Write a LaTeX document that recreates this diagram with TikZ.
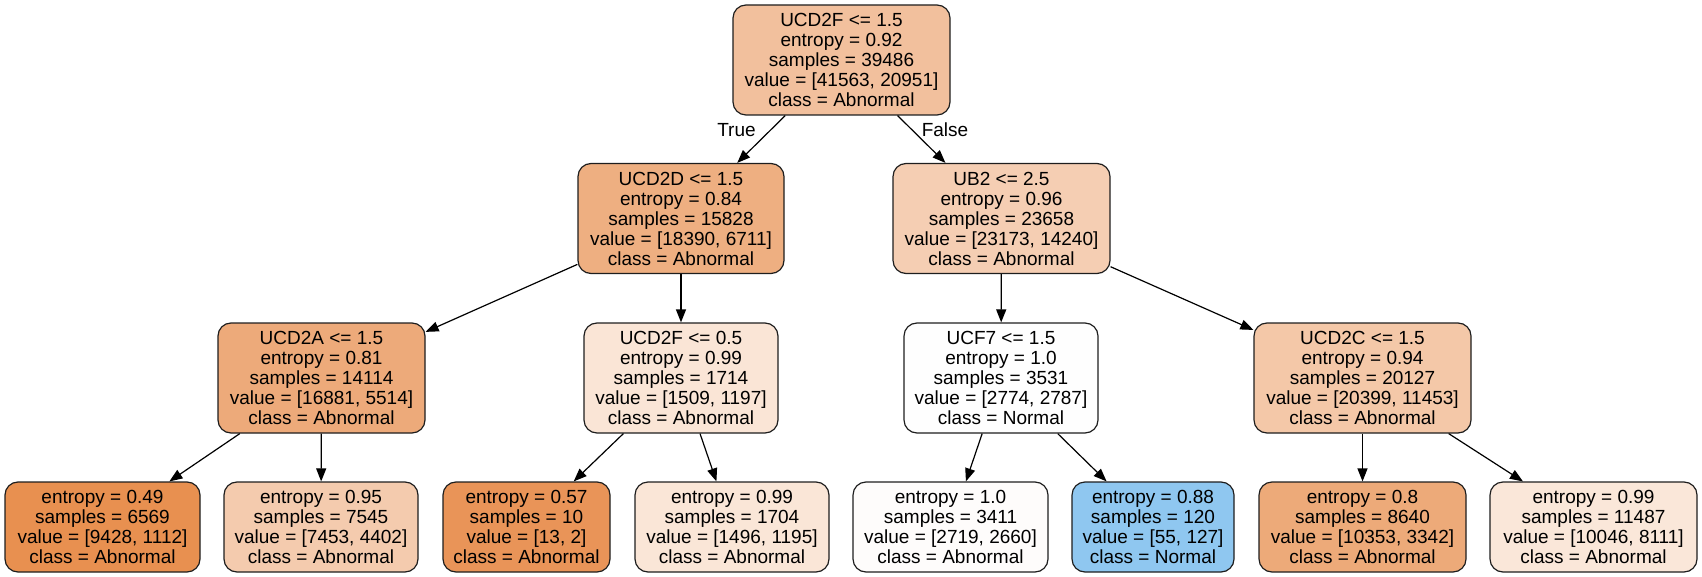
\documentclass[tikz,border=0pt]{standalone}
\usepackage{fontspec}
\setmainfont{Liberation Sans}
\usetikzlibrary{arrows.meta}

% node fills: orange = Abnormal, blue = Normal, lighter = less pure
\definecolor{c0}{RGB}{242,192,157}
\definecolor{c1}{RGB}{238,175,129}
\definecolor{c2}{RGB}{245,206,179}
\definecolor{c3}{RGB}{237,170,122}
\definecolor{c4}{RGB}{250,229,214}
\definecolor{c5}{RGB}{254,254,254}
\definecolor{c6}{RGB}{244,200,168}
\definecolor{l1}{RGB}{232,144,80}
\definecolor{l2}{RGB}{244,203,174}
\definecolor{l3}{RGB}{233,148,88}
\definecolor{l4}{RGB}{250,230,215}
\definecolor{l5}{RGB}{254,252,251}
\definecolor{l6}{RGB}{143,199,240}
\definecolor{l7}{RGB}{237,170,121}
\definecolor{l8}{RGB}{250,231,217}
\definecolor{border}{RGB}{30,30,30}

\begin{document}
\begin{tikzpicture}[x=1pt,y=-1pt,
  tnode/.style={draw=border, line width=1.2pt, rounded corners=13pt,
    align=center, font=\fontsize{19}{20}\selectfont, inner sep=0pt,
    minimum height=110pt},
  leaf/.style={tnode, minimum height=90pt},
  edge/.style={line width=1.2pt, -{Triangle[length=13pt,width=10pt]}},
  elabel/.style={font=\fontsize{19}{20}\selectfont}]
\useasboundingbox (0,0) rectangle (1702,577);

% root
\node[tnode, fill=c0, minimum width=217pt] (n0) at (841.5,60)
  {UCD2F <= 1.5\\entropy = 0.92\\samples = 39486\\value = [41563, 20951]\\class = Abnormal};

% depth 1
\node[tnode, fill=c1, minimum width=206pt] (n1) at (681,218.5)
  {UCD2D <= 1.5\\entropy = 0.84\\samples = 15828\\value = [18390, 6711]\\class = Abnormal};
\node[tnode, fill=c2, minimum width=217pt] (n2) at (1001.5,218.5)
  {UB2 <= 2.5\\entropy = 0.96\\samples = 23658\\value = [23173, 14240]\\class = Abnormal};

% depth 2
\node[tnode, fill=c3, minimum width=207pt] (n3) at (321.5,378)
  {UCD2A <= 1.5\\entropy = 0.81\\samples = 14114\\value = [16881, 5514]\\class = Abnormal};
\node[tnode, fill=c4, minimum width=194pt] (n4) at (681,378)
  {UCD2F <= 0.5\\entropy = 0.99\\samples = 1714\\value = [1509, 1197]\\class = Abnormal};
\node[tnode, fill=c5, minimum width=194pt] (n5) at (1001,378)
  {UCF7 <= 1.5\\entropy = 1.0\\samples = 3531\\value = [2774, 2787]\\class = Normal};
\node[tnode, fill=c6, minimum width=217pt] (n6) at (1362.5,378)
  {UCD2C <= 1.5\\entropy = 0.94\\samples = 20127\\value = [20399, 11453]\\class = Abnormal};

% leaves
\node[leaf, fill=l1, minimum width=195pt] (m1) at (102.5,527)
  {entropy = 0.49\\samples = 6569\\value = [9428, 1112]\\class = Abnormal};
\node[leaf, fill=l2, minimum width=194pt] (m2) at (321,527)
  {entropy = 0.95\\samples = 7545\\value = [7453, 4402]\\class = Abnormal};
\node[leaf, fill=l3, minimum width=167pt] (m3) at (526.5,527)
  {entropy = 0.57\\samples = 10\\value = [13, 2]\\class = Abnormal};
\node[leaf, fill=l4, minimum width=194pt] (m4) at (732,527)
  {entropy = 0.99\\samples = 1704\\value = [1496, 1195]\\class = Abnormal};
\node[leaf, fill=l5, minimum width=195pt] (m5) at (950.5,527)
  {entropy = 1.0\\samples = 3411\\value = [2719, 2660]\\class = Abnormal};
\node[leaf, fill=l6, minimum width=162pt] (m6) at (1153,527)
  {entropy = 0.88\\samples = 120\\value = [55, 127]\\class = Normal};
\node[leaf, fill=l7, minimum width=207pt] (m7) at (1362.5,527)
  {entropy = 0.8\\samples = 8640\\value = [10353, 3342]\\class = Abnormal};
\node[leaf, fill=l8, minimum width=207pt] (m8) at (1593.5,527)
  {entropy = 0.99\\samples = 11487\\value = [10046, 8111]\\class = Abnormal};

% connectors
\draw[edge] (n0) -- (n1);
\draw[edge] (n0) -- (n2);
\draw[edge] (n1) -- (n3);
\draw[edge] (n1) -- (n4);
\draw[edge] (n2) -- (n5);
\draw[edge] (n2) -- (n6);
\draw[edge] (n3) -- (m1);
\draw[edge] (n3) -- (m2);
\draw[edge] (n4) -- (m3);
\draw[edge] (n4) -- (m4);
\draw[edge] (n5) -- (m5);
\draw[edge] (n5) -- (m6);
\draw[edge] (n6) -- (m7);
\draw[edge] (n6) -- (m8);

% branch labels
\node[elabel] (tl) at (736.5,130) {True};
\node[elabel] (fl) at (945,130) {False};
\end{tikzpicture}
\end{document}
